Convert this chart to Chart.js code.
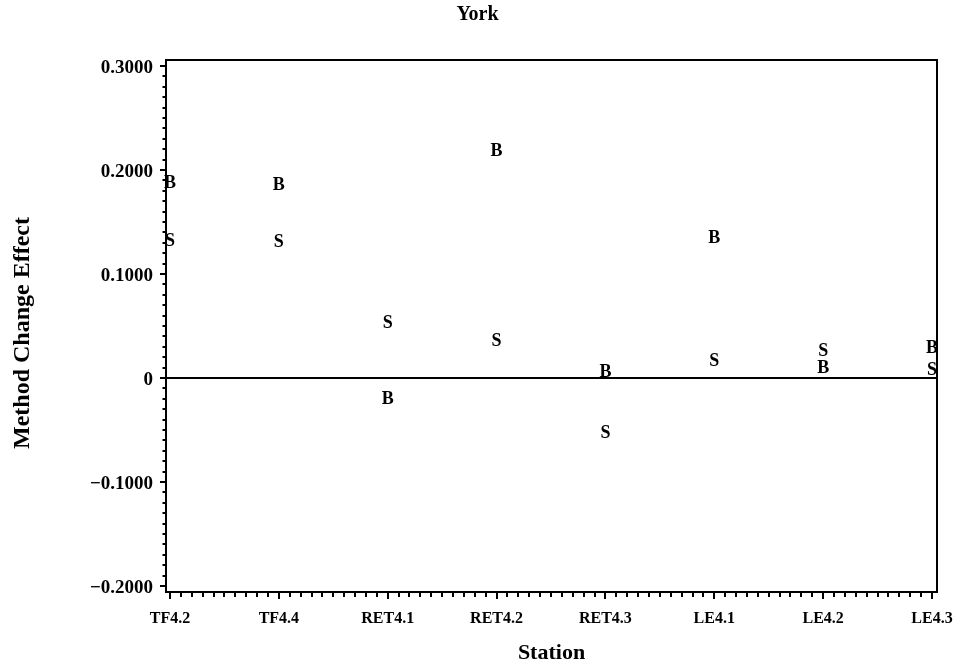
<!DOCTYPE html>
<html>
<head>
<meta charset="utf-8">
<title>York</title>
<script src="https://cdn.jsdelivr.net/npm/chart.js@4.4.1/dist/chart.umd.min.js"></script>
<style>
  html, body { margin: 0; padding: 0; background: #fff; }
  #wrap { width: 955px; height: 669px; }
</style>
</head>
<body>
<div id="wrap"><canvas id="chart" width="955" height="669"></canvas></div>
<script>
// Stations along the x axis
const stations = ['TF4.2', 'TF4.4', 'RET4.1', 'RET4.2', 'RET4.3', 'LE4.1', 'LE4.2', 'LE4.3'];

// Method change effect per station, one series per plotting symbol
const effectB = [0.1885, 0.1865, -0.0196, 0.2192, 0.0071, 0.1359, 0.0109, 0.0301];
const effectS = [0.1327, 0.1314, 0.0541, 0.0365, -0.0521, 0.0176, 0.0269, 0.0083];

// Labelled y ticks
const yTickValues = [-0.2, -0.1, 0, 0.1, 0.2, 0.3];
const yTickLabels = ['\u22120.2000', '\u22120.1000', '0', '0.1000', '0.2000', '0.3000'];

const SERIF = '"Liberation Serif", "Times New Roman", serif';

// Letters as plot symbols, minor/major tick marks, frame and y-axis title
const sasPlot = {
  id: 'sasPlot',
  afterDatasetsDraw(chart) {
    const ctx = chart.ctx;
    const size = 18;
    ctx.save();
    ctx.font = 'bold ' + size + 'px ' + SERIF;
    ctx.fillStyle = '#000';
    ctx.textAlign = 'center';
    ctx.textBaseline = 'alphabetic';
    chart.data.datasets.forEach((ds, di) => {
      chart.getDatasetMeta(di).data.forEach(pt => {
        ctx.fillText(ds.label, pt.x, pt.y + size * 0.33);
      });
    });
    ctx.restore();
  },
  afterDraw(chart) {
    const { ctx, chartArea: a, scales: { x, y } } = chart;
    ctx.save();
    ctx.strokeStyle = '#000';
    ctx.lineWidth = 2;
    ctx.beginPath();
    for (let k = 0; k <= (stations.length - 1) * 10; k++) {
      const px = Math.round(x.getPixelForValue(k / 10));
      const len = k % 10 === 0 ? 7 : 5;
      ctx.moveTo(px, a.bottom);
      ctx.lineTo(px, a.bottom + len);
    }
    for (let k = -20; k <= 30; k++) {
      const py = Math.round(y.getPixelForValue(k / 100));
      const len = k % 10 === 0 ? 6 : 3.5;
      ctx.moveTo(a.left, py);
      ctx.lineTo(a.left - len, py);
    }
    ctx.stroke();
    ctx.strokeRect(a.left, a.top, a.right - a.left, a.bottom - a.top);

    ctx.translate(23, 333);
    ctx.rotate(-Math.PI / 2);
    ctx.font = 'bold 24px ' + SERIF;
    ctx.fillStyle = '#000';
    ctx.textAlign = 'center';
    ctx.textBaseline = 'middle';
    ctx.fillText('Method Change Effect', 0, 0);
    ctx.restore();
  }
};

new Chart(document.getElementById('chart'), {
  type: 'scatter',
  data: {
    datasets: [
      { label: 'B', data: effectB.map((v, i) => ({ x: i, y: v })), pointRadius: 0, pointHoverRadius: 0 },
      { label: 'S', data: effectS.map((v, i) => ({ x: i, y: v })), pointRadius: 0, pointHoverRadius: 0 }
    ]
  },
  options: {
    responsive: false,
    animation: false,
    devicePixelRatio: 1,
    layout: { padding: 0 },
    plugins: {
      legend: { display: false },
      tooltip: { enabled: false },
      title: {
        display: true,
        text: 'York',
        color: '#000',
        font: { family: SERIF, size: 20, weight: 'bold' },
        padding: { top: 3, bottom: 33 }
      }
    },
    scales: {
      x: {
        type: 'linear',
        min: -0.0367,
        max: 7.046,
        afterBuildTicks: s => { s.ticks = stations.map((_, i) => ({ value: i })); },
        afterFit: s => { s.height = 77; s.paddingLeft = 0; s.paddingRight = 0; },
        grid: { display: false },
        border: { display: false },
        ticks: {
          callback: v => stations[v],
          color: '#000',
          font: { family: SERIF, size: 16, weight: 'bold' },
          padding: 9,
          maxRotation: 0,
          autoSkip: false
        },
        title: {
          display: true,
          text: 'Station',
          color: '#000',
          font: { family: SERIF, size: 22, weight: 'bold' },
          padding: { top: 0, bottom: 2 }
        }
      },
      y: {
        type: 'linear',
        min: -0.2058,
        max: 0.3058,
        afterBuildTicks: s => { s.ticks = yTickValues.map(v => ({ value: v })); },
        afterFit: s => { s.width = 166; },
        grid: {
          display: true,
          drawTicks: false,
          lineWidth: 2,
          color: c => (c.tick && c.tick.value === 0 ? '#000' : 'rgba(0,0,0,0)')
        },
        border: { display: false },
        ticks: {
          callback: (v, i) => yTickLabels[i],
          color: '#000',
          font: { family: SERIF, size: 19, weight: 'bold' },
          padding: 13,
          labelOffset: 2
        }
      },
      // empty strip on the right of the frame
      yRight: {
        type: 'linear',
        position: 'right',
        display: true,
        afterFit: s => { s.width = 18; },
        grid: { display: false, drawTicks: false },
        border: { display: false },
        ticks: { display: false }
      }
    }
  },
  plugins: [sasPlot]
});
</script>
</body>
</html>
